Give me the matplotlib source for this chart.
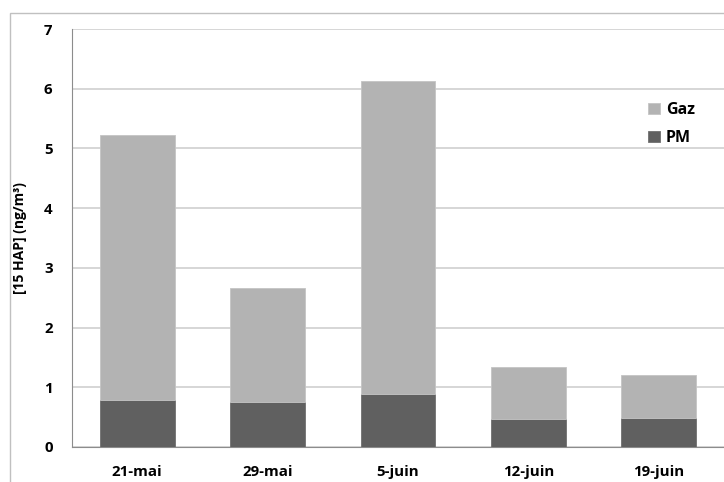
import matplotlib
matplotlib.use("Agg")
import matplotlib.pyplot as plt
from matplotlib.patches import Rectangle

categories = ["21-mai", "29-mai", "5-juin", "12-juin", "19-juin"]
pm = [0.79, 0.75, 0.88, 0.47, 0.49]
gaz = [4.43, 1.91, 5.25, 0.87, 0.71]
yticks = [0, 1, 2, 3, 4, 5, 6, 7]

plt.rcParams['font.family'] = ['Open Sans', 'DejaVu Sans']
plt.rcParams['font.weight'] = 'bold'

fig = plt.figure(figsize=(7.24, 4.82), dpi=100)
W, H = 724, 482
ax = fig.add_axes([72 / W, 1 - 447 / H, (724 - 72) / W, (447 - 29) / H])

x = list(range(len(categories)))
ax.bar(x, pm, width=0.575, color="#606060", edgecolor="#707070", linewidth=0.6, label="PM", zorder=3)
ax.bar(x, gaz, bottom=pm, width=0.575, color="#b3b3b3", edgecolor="#c4c4c4", linewidth=0.6, label="Gaz", zorder=3)

ax.set_xlim(-0.5, 4.5)
ax.set_ylim(0, 7)
ax.set_yticks(yticks)
ax.set_xticks(x)
ax.set_xticklabels(categories)
ax.tick_params(axis='both', length=0, labelsize=10.8)
ax.tick_params(axis='y', pad=14)
ax.tick_params(axis='x', pad=13)
for lbl in ax.get_xticklabels() + ax.get_yticklabels():
    lbl.set_fontweight('bold')

ax.grid(axis='y', color="#d0d0d0", linewidth=1.2, zorder=0)
ax.set_axisbelow(True)
for s in ["top", "right"]:
    ax.spines[s].set_visible(False)
ax.spines["left"].set_color("#8c8c8c")
ax.spines["bottom"].set_color("#8c8c8c")

ax.set_ylabel("[15 HAP] (ng/m³)", fontsize=10, fontweight='bold')
ax.yaxis.set_label_coords((27 - 72) / (724 - 72), 0.5)

handles, labels = ax.get_legend_handles_labels()
leg = ax.legend(handles[::-1], labels[::-1], loc='upper left',
                bbox_to_anchor=((634 - 72) / (724 - 72), 1 - (88 - 29) / (447 - 29)),
                frameon=False, fontsize=11.5, handlelength=0.7, handleheight=0.7,
                handletextpad=0.4, labelspacing=0.75)
for t in leg.get_texts():
    t.set_fontweight('bold')

fig.patches.append(Rectangle((10 / W, -0.1), 1.2, 1 - 13 / H + 0.1, transform=fig.transFigure,
                             fill=False, edgecolor="#c0c0c0", linewidth=1.0))

fig.savefig("out.png", dpi=100)
